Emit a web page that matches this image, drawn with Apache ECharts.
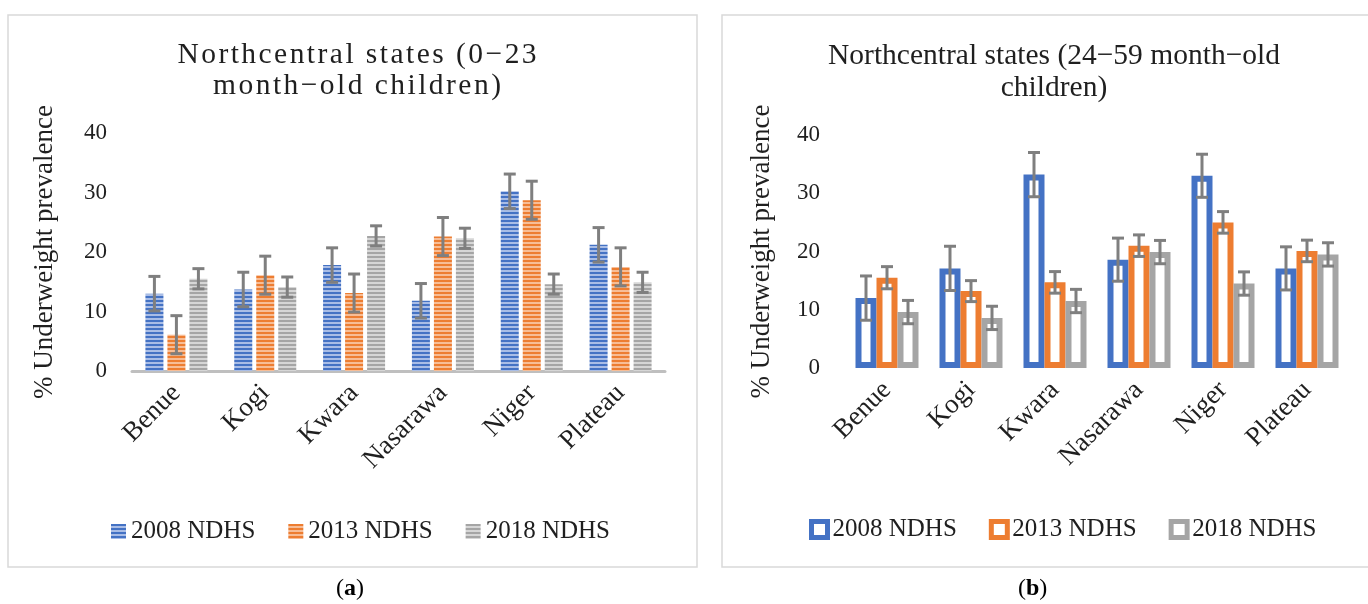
<!DOCTYPE html>
<html>
<head>
<meta charset="utf-8">
<script src="https://cdn.jsdelivr.net/npm/echarts@6/dist/echarts.min.js"></script>
<style>
  html, body { margin: 0; padding: 0; background: #ffffff; }
  #chart { width: 1368px; height: 604px; }
</style>
</head>
<body>
<div id="chart"></div>
<script>
// ---- data -------------------------------------------------------------
const states = ['Benue', 'Kogi', 'Kwara', 'Nasarawa', 'Niger', 'Plateau'];
const surveys = ['2008 NDHS', '2013 NDHS', '2018 NDHS'];
const yTicks = [0, 10, 20, 30, 40];

// (a) children aged 0–23 months, % underweight
const young2008 = [13.0, 13.7, 17.8, 11.8, 30.2, 21.2];
const young2013 = [6.1, 16.1, 13.1, 22.6, 28.7, 17.5];
const young2018 = [15.5, 14.1, 22.7, 22.3, 14.6, 14.9];
const youngErr2008 = [2.9, 2.9, 2.9, 2.9, 2.9, 2.9];
const youngErr2013 = [3.2, 3.2, 3.2, 3.2, 3.2, 3.2];
const youngErr2018 = [1.7, 1.7, 1.7, 1.7, 1.7, 1.7];

// (b) children aged 24–59 months, % underweight
const older2008 = [12.0, 17.1, 33.2, 18.6, 33.0, 17.1];
const older2013 = [15.5, 13.2, 14.7, 21.0, 25.0, 20.1];
const older2018 = [9.6, 8.6, 11.5, 19.9, 14.5, 19.5];
const olderErr2008 = [3.8, 3.8, 3.8, 3.7, 3.7, 3.7];
const olderErr2013 = [1.9, 1.8, 1.85, 1.85, 1.85, 1.85];
const olderErr2018 = [2.0, 2.0, 2.0, 2.0, 2.0, 2.0];

const titleA1 = 'Northcentral states (0\u221223';
const titleA2 = 'month\u2212old children)';
const titleB = 'Northcentral states (24\u221259 month\u2212old\nchildren)';
const axisTitle = '% Underweight prevalence';

// ---- styling ------------------------------------------------------------
const FONT = 'Liberation Serif';
const TEXT = '#1f1f1f';
const palette = ['#4472c4', '#ed7d31', '#a5a5a5'];
const paletteLight = ['#a9bde6', '#f7bd96', '#d6d6d6'];
const ERR = '#7f7f7f';

// narrow horizontal stripe fill
function stripes(dark, light) {
  const c = document.createElement('canvas');
  c.width = 4; c.height = 4;
  const g = c.getContext('2d');
  g.fillStyle = light; g.fillRect(0, 0, 4, 4);
  g.fillStyle = dark; g.fillRect(0, 0, 4, 2);
  return { image: c, repeat: 'repeat' };
}

// spread characters with hair spaces for a letter-spaced look
function spaced(s) { return s.split('').join('\u200A'); }

const chart = echarts.init(document.getElementById('chart'));

// bar geometry (px)
const barA = 18, gapA = 4;
const barB = 21, gapB = 0;

function errorBars(xi, yi, values, errs, offset, name) {
  return {
    type: 'custom', name: name, xAxisIndex: xi, yAxisIndex: yi, z: 10, silent: true,
    data: values.map((v, i) => [i, v - errs[i], v + errs[i]]),
    renderItem(params, api) {
      const x = api.coord([api.value(0), 0])[0] + offset;
      const lo = api.coord([api.value(0), api.value(1)])[1];
      const hi = api.coord([api.value(0), api.value(2)])[1];
      const st = { stroke: ERR, lineWidth: 3 };
      const cap = 6;
      return {
        type: 'group',
        children: [
          { type: 'line', shape: { x1: x, y1: hi, x2: x, y2: lo }, style: st },
          { type: 'line', shape: { x1: x - cap, y1: hi, x2: x + cap, y2: hi }, style: st },
          { type: 'line', shape: { x1: x - cap, y1: lo, x2: x + cap, y2: lo }, style: st }
        ]
      };
    }
  };
}

const youngVals = [young2008, young2013, young2018];
const youngErrs = [youngErr2008, youngErr2013, youngErr2018];
const olderVals = [older2008, older2013, older2018];
const olderErrs = [olderErr2008, olderErr2013, olderErr2018];

const series = [];
surveys.forEach((s, k) => {
  series.push({
    type: 'bar', name: s, xAxisIndex: 0, yAxisIndex: 0,
    data: youngVals[k], barWidth: barA, barGap: (gapA / barA * 100) + '%',
    itemStyle: { color: stripes(palette[k], paletteLight[k]) }
  });
});
surveys.forEach((s, k) => {
  series.push({
    type: 'bar', name: s, xAxisIndex: 1, yAxisIndex: 1,
    data: olderVals[k], barWidth: barB, barGap: (gapB / barB * 100) + '%',
    itemStyle: { color: '#ffffff', borderColor: palette[k], borderWidth: 6 }
  });
});
surveys.forEach((s, k) => {
  const offA = (k - 1) * (barA + gapA);
  const offB = (k - 1) * (barB + gapB);
  series.push(errorBars(0, 0, youngVals[k], youngErrs[k], offA, s + ' (a) SE'));
  series.push(errorBars(1, 1, olderVals[k], olderErrs[k], offB, s + ' (b) SE'));
});

function yAxis(grid, gap) {
  return {
    type: 'value', gridIndex: grid, min: yTicks[0], max: yTicks[yTicks.length - 1], interval: 10,
    splitLine: { show: false }, axisLine: { show: false }, axisTick: { show: false },
    axisLabel: { fontFamily: FONT, fontSize: 23, color: TEXT, margin: 25 },
    name: axisTitle, nameLocation: 'middle', nameRotate: 90, nameGap: gap,
    nameTextStyle: { fontFamily: FONT, fontSize: 27, color: TEXT }
  };
}
function xAxis(grid, showLine) {
  return {
    type: 'category', gridIndex: grid, data: states,
    axisTick: { show: false },
    axisLine: { show: showLine, lineStyle: { color: '#bfbfbf', width: 3 } },
    axisLabel: { fontFamily: FONT, fontSize: 27, color: TEXT, rotate: 45, margin: 18, interval: 0 }
  };
}

chart.setOption({
  animation: false,
  backgroundColor: '#ffffff',
  title: [
    {
      text: spaced(titleA1) + '\n' + spaced(titleA2), left: 352, top: 35, textAlign: 'center',
      textStyle: { fontFamily: FONT, fontSize: 29.5, fontWeight: 'normal', color: TEXT, lineHeight: 31 }
    },
    {
      text: titleB, left: 1049, top: 35, textAlign: 'center',
      textStyle: { fontFamily: FONT, fontSize: 29.5, fontWeight: 'normal', color: TEXT, lineHeight: 32 }
    }
  ],
  legend: [
    {
      data: surveys, left: 106, top: 514, icon: 'rect', itemWidth: 15, itemHeight: 15, itemGap: 33,
      textStyle: { fontFamily: FONT, fontSize: 25, color: TEXT },
      selectedMode: false
    },
    {
      data: surveys.map((s, k) => ({
        name: s, itemStyle: { color: '#ffffff', borderColor: palette[k], borderWidth: 5 }
      })),
      left: 804, top: 512, icon: 'rect', itemWidth: 16, itemHeight: 16, itemGap: 32,
      textStyle: { fontFamily: FONT, fontSize: 25, color: TEXT },
      selectedMode: false
    }
  ],
  grid: [
    { left: 132, right: 703, top: 133, bottom: 233 },
    { left: 845, right: 19, top: 135, bottom: 236 }
  ],
  xAxis: [xAxis(0, true), xAxis(1, false)],
  yAxis: [yAxis(0, 74), yAxis(1, 70)],
  series: series,
  graphic: [
    { type: 'rect', shape: { x: 8, y: 15, width: 689, height: 552 }, style: { fill: null, stroke: '#d9d9d9', lineWidth: 1.5 }, z: -1 },
    { type: 'rect', shape: { x: 722, y: 15, width: 660, height: 552 }, style: { fill: null, stroke: '#d9d9d9', lineWidth: 1.5 }, z: -1 },
    {
      type: 'text', left: 352 - 16, top: 577,
      style: { text: '({b|a})', font: '24px ' + FONT, fill: '#000', rich: { b: { fontWeight: 'bold', fontFamily: FONT, fontSize: 24 } } }
    },
    {
      type: 'text', left: 1034 - 16, top: 577,
      style: { text: '({b|b})', font: '24px ' + FONT, fill: '#000', rich: { b: { fontWeight: 'bold', fontFamily: FONT, fontSize: 24 } } }
    }
  ]
});
</script>
</body>
</html>
